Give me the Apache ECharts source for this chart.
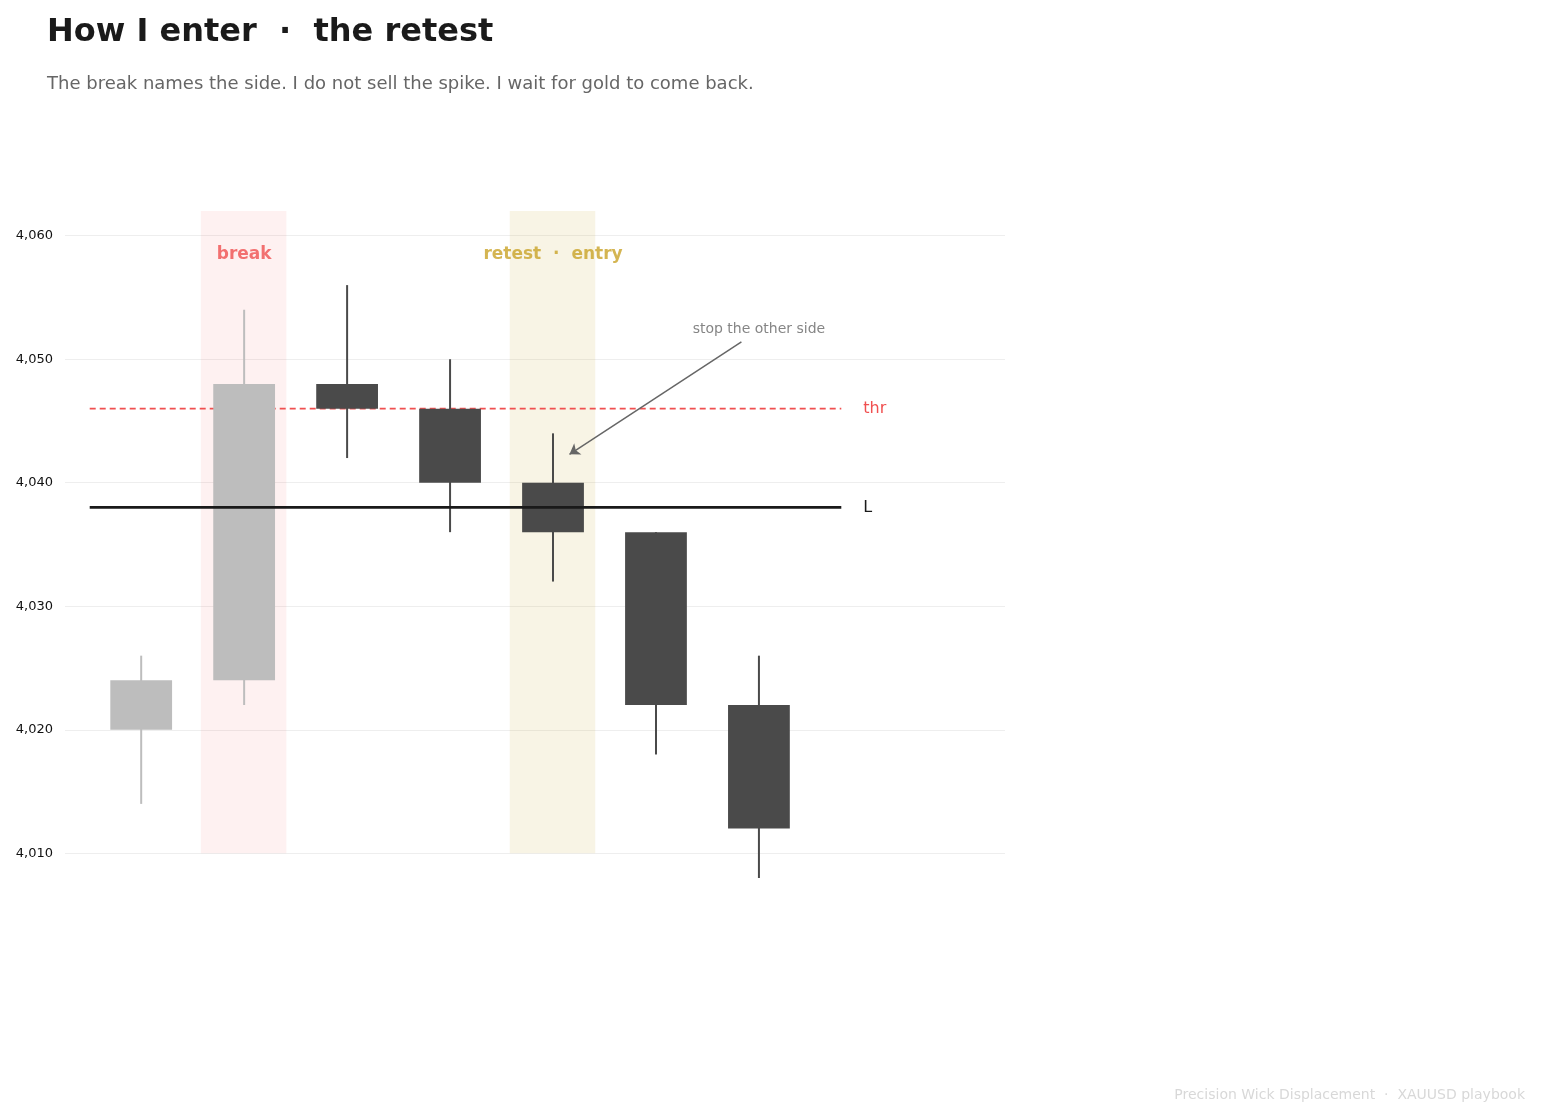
<!DOCTYPE html>
<html><head><meta charset="utf-8">
<script src="https://cdn.jsdelivr.net/npm/echarts@6/dist/echarts.min.js"></script>
<style>html,body{margin:0;padding:0;background:#fff}#c{width:1545px;height:1119px}</style>
</head><body><div id="c"></div>
<script>
const opens  = [4020, 4024, 4048, 4046, 4040, 4036, 4022];
const closes = [4024, 4048, 4046, 4040, 4036, 4022, 4012];
const lows   = [4014, 4022, 4042, 4036, 4032, 4018, 4008];
const highs  = [4026, 4054, 4056, 4050, 4044, 4036, 4026];
const yTicks = [4010, 4020, 4030, 4040, 4050, 4060];
const thr = 4046, L = 4038;
const lightCount = 2;

const chart = echarts.init(document.getElementById('c'));
const data = opens.map((o,i)=>[i,o,closes[i],lows[i],highs[i]]);
chart.setOption({
  animation:false,
  title:[
    {text:'How I enter  ·  the retest',left:42,top:12,textStyle:{fontFamily:'DejaVu Sans',fontSize:32,fontWeight:'bold',color:'#1a1a1a'}},
    {text:'The break names the side. I do not sell the spike. I wait for gold to come back.',left:42,top:70,textStyle:{fontFamily:'DejaVu Sans',fontSize:18,fontWeight:'normal',color:'#666'}},
    {text:'Precision Wick Displacement  ·  XAUUSD playbook',right:15,bottom:12,textStyle:{fontFamily:'DejaVu Sans',fontSize:14,fontWeight:'normal',color:'#d8d8d8'}}
  ],
  grid:{left:65,right:540,top:211,bottom:241},
  xAxis:{type:'value',min:-0.74,max:8.39,show:false},
  yAxis:{type:'value',min:4008,max:4062,
    axisLine:{show:false},axisTick:{show:false,customValues:yTicks},
    axisLabel:{customValues:yTicks,color:'#111',fontSize:13,fontFamily:'DejaVu Sans',margin:12},
    splitLine:{show:true,lineStyle:{color:'#eeeeee'}}},
  series:[
    {type:'custom',data:data,
     renderItem:function(p,api){
       const i=api.value(0),o=api.value(1),c=api.value(2),lo=api.value(3),hi=api.value(4);
       const col=i<lightCount?'#bdbdbd':'#4a4a4a';
       const w=api.size([0.6,0])[0];
       const pHi=api.coord([i,hi]),pLo=api.coord([i,lo]);
       const pT=api.coord([i,Math.max(o,c)]),pB=api.coord([i,Math.min(o,c)]);
       return {type:'group',children:[
         {type:'line',shape:{x1:pHi[0],y1:pHi[1],x2:pLo[0],y2:pLo[1]},style:{stroke:col,lineWidth:2}},
         {type:'rect',shape:{x:pT[0]-w/2,y:pT[1],width:w,height:pB[1]-pT[1]},style:{fill:col}}
       ]};
     },
     markArea:{silent:true,data:[
       [{xAxis:0.58,yAxis:4010,itemStyle:{color:'rgba(240,80,80,0.08)'}},{xAxis:1.41,yAxis:4062}],
       [{xAxis:3.58,yAxis:4010,itemStyle:{color:'rgba(201,162,39,0.12)'}},{xAxis:4.41,yAxis:4062}]
     ]},
     z:3
    },
    {type:'line',data:[[-0.5,thr],[6.8,thr]],symbol:'none',lineStyle:{color:'#f05050',type:[6,4],width:1.8},z:2,
     endLabel:{show:true,formatter:'thr',color:'#f05050',fontSize:16,fontFamily:'DejaVu Sans',distance:22}},
    {type:'line',data:[[-0.5,L],[6.8,L]],symbol:'none',lineStyle:{color:'#1a1a1a',width:2.8},z:4,
     endLabel:{show:true,formatter:'L',color:'#1a1a1a',fontSize:16,fontFamily:'DejaVu Sans',distance:22}},
    {type:'scatter',symbolSize:0,data:[
       {value:[1,4058.5],label:{formatter:'break',color:'#f05050'}},
       {value:[4,4058.5],label:{formatter:'retest  ·  entry',color:'#c9a227'}}
     ],label:{show:true,position:'inside',fontSize:17,fontWeight:'bold',fontFamily:'DejaVu Sans'}},
    {type:'scatter',symbolSize:0,data:[{value:[6,4052.4]}],
     label:{show:true,position:'inside',formatter:'stop the other side',color:'#666',fontSize:14,fontFamily:'DejaVu Sans'}},
    {type:'lines',coordinateSystem:'cartesian2d',z:5,
     data:[{coords:[[5.83,4051.4],[4.16,4042.3]]}],
     symbol:['none','arrow'],symbolSize:10,lineStyle:{color:'#666',width:1.5,opacity:1}}
  ]
});
</script></body></html>
